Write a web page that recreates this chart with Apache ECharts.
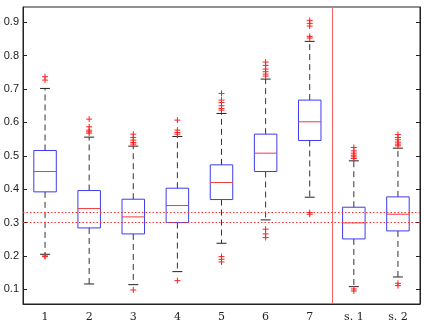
<!DOCTYPE html>
<html>
<head>
<meta charset="utf-8">
<script src="https://cdn.jsdelivr.net/npm/echarts@6/dist/echarts.min.js"></script>
<style>
  html, body { margin: 0; padding: 0; background: #fff; }
  #chart { width: 424px; height: 327px; }
</style>
</head>
<body>
<div id="chart"></div>
<script>
// 箱线图数据
var categories = ['1', '2', '3', '4', '5', '6', '7', 's. 1', 's. 2'];
var lowWhisker  = [0.205, 0.116, 0.114, 0.153, 0.238, 0.308, 0.376, 0.108, 0.137];
var q1          = [0.392, 0.284, 0.266, 0.300, 0.369, 0.453, 0.546, 0.251, 0.275];
var median      = [0.453, 0.342, 0.317, 0.351, 0.420, 0.508, 0.602, 0.299, 0.325];
var q3          = [0.516, 0.396, 0.370, 0.403, 0.473, 0.565, 0.667, 0.346, 0.377];
var highWhisker = [0.702, 0.556, 0.529, 0.558, 0.627, 0.730, 0.843, 0.485, 0.523];
// 离群点 [类别序号, 值]
var outliers = [
  [0, 0.737], [0, 0.727], [0, 0.200], [0, 0.198],
  [1, 0.610], [1, 0.587], [1, 0.577], [1, 0.572], [1, 0.568],
  [2, 0.565], [2, 0.555], [2, 0.547], [2, 0.540], [2, 0.535], [2, 0.098],
  [3, 0.607], [3, 0.577], [3, 0.570], [3, 0.565], [3, 0.126],
  [4, 0.687], [4, 0.667], [4, 0.660], [4, 0.650], [4, 0.642], [4, 0.637],
  [4, 0.198], [4, 0.190], [4, 0.182],
  [5, 0.781], [5, 0.771], [5, 0.760], [5, 0.752], [5, 0.745], [5, 0.739],
  [5, 0.280], [5, 0.266], [5, 0.255],
  [6, 0.906], [6, 0.897], [6, 0.889], [6, 0.858], [6, 0.853], [6, 0.330], [6, 0.325],
  [7, 0.525], [7, 0.515], [7, 0.508], [7, 0.502], [7, 0.497], [7, 0.492], [7, 0.101], [7, 0.095],
  [8, 0.564], [8, 0.555], [8, 0.548], [8, 0.541], [8, 0.535], [8, 0.530], [8, 0.118], [8, 0.111]
];
var yTicks = [0.1, 0.2, 0.3, 0.4, 0.5, 0.6, 0.7, 0.8, 0.9];
var refLines = [0.299, 0.325];   // s. 1 / s. 2 的中位数
var separatorAfter = 6;           // 在第7组之后画竖线

var boxData = categories.map(function (c, i) {
  return [i, lowWhisker[i], q1[i], median[i], q3[i], highWhisker[i]];
});

function renderBox(params, api) {
  var idx = api.value(0);
  var band = api.size([1, 0])[0];
  var x = api.coord([idx, 0])[0];
  var half = band * 0.255;
  var capHalf = 5;
  var yLow = api.coord([idx, api.value(1)])[1];
  var yQ1 = api.coord([idx, api.value(2)])[1];
  var yMed = api.coord([idx, api.value(3)])[1];
  var yQ3 = api.coord([idx, api.value(4)])[1];
  var yHigh = api.coord([idx, api.value(5)])[1];
  var dash = { stroke: '#333', lineWidth: 1, lineDash: [6, 4] };
  var solid = { stroke: '#222', lineWidth: 1 };
  return {
    type: 'group',
    children: [
      { type: 'line', shape: { x1: x, y1: yQ3, x2: x, y2: yHigh }, style: dash },
      { type: 'line', shape: { x1: x, y1: yQ1, x2: x, y2: yLow }, style: dash },
      { type: 'line', shape: { x1: x - capHalf, y1: yHigh, x2: x + capHalf, y2: yHigh }, style: solid },
      { type: 'line', shape: { x1: x - capHalf, y1: yLow, x2: x + capHalf, y2: yLow }, style: solid },
      { type: 'rect', shape: { x: x - half, y: yQ3, width: half * 2, height: yQ1 - yQ3 },
        style: { fill: 'none', stroke: '#3c3cf0', lineWidth: 1 } },
      { type: 'line', shape: { x1: x - half, y1: yMed, x2: x + half, y2: yMed },
        style: { stroke: '#f03c3c', lineWidth: 1 } }
    ]
  };
}

function renderOutlier(params, api) {
  var p = api.coord([api.value(0), api.value(1)]);
  var s = 3;
  var st = { stroke: '#ff2020', lineWidth: 1 };
  return {
    type: 'group',
    children: [
      { type: 'line', shape: { x1: p[0] - s, y1: p[1], x2: p[0] + s, y2: p[1] }, style: st },
      { type: 'line', shape: { x1: p[0], y1: p[1] - s, x2: p[0], y2: p[1] + s }, style: st }
    ]
  };
}

function renderSeparator(params, api) {
  var idx = api.value(0);
  var band = api.size([1, 0])[0];
  var x = Math.round(api.coord([idx, 0])[0] + band / 2) + 0.5;
  var cs = params.coordSys;
  return {
    type: 'line',
    shape: { x1: x, y1: cs.y, x2: x, y2: cs.y + cs.height },
    style: { stroke: '#ff6060', lineWidth: 1 }
  };
}

var option = {
  animation: false,
  backgroundColor: '#fff',
  grid: {
    left: 23, right: 4, top: 7, bottom: 23,
    show: true, borderColor: '#222', borderWidth: 1
  },
  xAxis: {
    type: 'category',
    data: categories,
    boundaryGap: true,
    axisLine: { lineStyle: { color: '#222' } },
    axisTick: { show: false },
    axisLabel: {
      fontFamily: 'DejaVu Serif', fontSize: 11, color: '#222', margin: 8
    },
    splitLine: { show: false }
  },
  yAxis: [{
    type: 'value',
    min: 0.056, max: 0.946,
    axisLine: { show: true, lineStyle: { color: '#222' } },
    axisTick: { show: true, inside: true, length: 4, customValues: yTicks, lineStyle: { color: '#222' } },
    axisLabel: {
      customValues: yTicks, fontFamily: 'Liberation Sans', fontSize: 11, color: '#222', margin: 4,
      formatter: function (v) { return v.toFixed(1); }
    },
    splitLine: { show: false }
  }, {
    type: 'value',
    position: 'right',
    min: 0.056, max: 0.946,
    axisLine: { show: true, lineStyle: { color: '#222' } },
    axisTick: { show: true, inside: true, length: 4, customValues: yTicks, lineStyle: { color: '#222' } },
    axisLabel: { show: false },
    splitLine: { show: false }
  }],
  series: [{
    type: 'custom',
    renderItem: renderBox,
    data: boxData,
    encode: { x: 0, y: [1, 2, 3, 4, 5] },
    z: 3,
    markLine: {
      silent: true,
      symbol: 'none',
      label: { show: false },
      lineStyle: { color: '#ff3030', type: [1.5, 2], width: 1 },
      data: refLines.map(function (v) { return { yAxis: v }; })
    }
  }, {
    type: 'custom',
    renderItem: renderSeparator,
    data: [[separatorAfter, 0.5]],
    encode: { x: 0, y: 1 },
    z: 2
  }, {
    type: 'custom',
    renderItem: renderOutlier,
    data: outliers,
    encode: { x: 0, y: 1 },
    z: 4
  }]
};

var myChart = echarts.init(document.getElementById('chart'));
myChart.setOption(option);
</script>
</body>
</html>
